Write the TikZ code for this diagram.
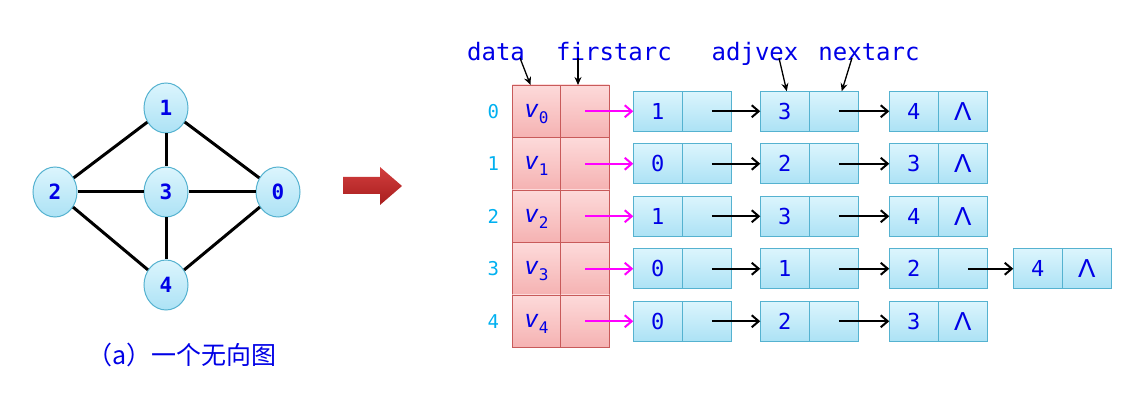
\documentclass[tikz,border=0pt]{standalone}
\usepackage{fontspec}
\setmonofont{DejaVu Sans Mono}
\newfontfamily\cjk{Noto Sans CJK SC}
\newfontfamily\lsans{Liberation Sans}
\usepackage{tikz}
\usetikzlibrary{positioning,shapes.geometric,arrows.meta}
\definecolor{txtblue}{RGB}{0,0,230}
\definecolor{idxcyan}{RGB}{0,176,240}
\definecolor{pinktop}{RGB}{253,218,218}
\definecolor{pinkbot}{RGB}{245,178,178}
\definecolor{pinkline}{RGB}{200,90,90}
\definecolor{cyantop}{RGB}{220,245,253}
\definecolor{cyanbot}{RGB}{172,226,245}
\definecolor{cyanline}{RGB}{85,178,208}
\definecolor{redtop}{RGB}{210,62,62}
\definecolor{redbot}{RGB}{168,30,30}
\definecolor{ptrpink}{RGB}{255,0,255}
\newcommand{\vsub}[1]{\smash{\raisebox{-6pt}{{\fontsize{24}{26}\selectfont\itshape v}\raisebox{-6pt}{\fontsize{16}{17}\selectfont#1}}}}
\newcommand{\nil}{{\lsans\fontsize{26}{26}\selectfont Λ}}

\begin{document}
\begin{tikzpicture}[x=1pt, y=-1pt,
  every node/.style={font=\ttfamily\fontsize{22}{24}\selectfont, text=txtblue, inner sep=1pt},
  vert/.style={ellipse, draw=cyanline, line width=1pt, top color=cyantop, bottom color=cyanbot,
               minimum width=44pt, minimum height=50pt, inner sep=0pt,
               font=\ttfamily\bfseries\fontsize{21}{23}\selectfont},
  gline/.style={line width=3pt, black},
  hcell/.style={rectangle, draw=pinkline, line width=0.8pt, top color=pinktop, bottom color=pinkbot,
                minimum width=48.5pt, minimum height=52.5pt, inner sep=0pt, outer sep=0pt},
  acell/.style={rectangle, draw=cyanline, line width=0.8pt, top color=cyantop, bottom color=cyanbot,
                minimum width=49pt, minimum height=40pt, inner sep=0pt, outer sep=0pt},
  idx/.style={text=idxcyan, font=\ttfamily\fontsize{19}{20}\selectfont},
  lbl/.style={font=\ttfamily\fontsize{24}{26}\selectfont, anchor=base},
  ptr/.style={-{Straight Barb[length=7pt,width=12pt]}, line width=2pt, black},
  hptr/.style={ptr, ptrpink},
  tag/.style={-{Stealth[length=8pt,width=7pt]}, line width=1.3pt, black}
]
  \useasboundingbox (0,0) rectangle (1136,411);

  % undirected graph
  \node[vert] (g1) at (166,108) {1};
  \node[vert] (g2) at (55,192) {2};
  \node[vert] (g3) at (166,192) {3};
  \node[vert] (g0) at (278,192) {0};
  \node[vert] (g4) at (166,285) {4};
  \draw[gline] (g1) -- (g2);
  \draw[gline] (g1) -- (g3);
  \draw[gline] (g1) -- (g0);
  \draw[gline] (g2) -- (g3);
  \draw[gline] (g3) -- (g0);
  \draw[gline] (g2) -- (g4);
  \draw[gline] (g3) -- (g4);
  \draw[gline] (g0) -- (g4);
  \node[font=\cjk\fontsize{25}{27}\selectfont] (cap) at (182,355) {（a）一个无向图};

  % big arrow
  \shade[top color=redtop, bottom color=redbot]
    (343,177) -- (380,177) -- (380,167) -- (402,186) -- (380,205) -- (380,194) -- (343,194) -- cycle;

  % vertex table
  \node[hcell] (d0) at (536.5,111.25) {\vsub{0}};
  \node[hcell, below=0pt of d0] (d1) {\vsub{1}};
  \node[hcell, below=0pt of d1] (d2) {\vsub{2}};
  \node[hcell, below=0pt of d2] (d3) {\vsub{3}};
  \node[hcell, below=0pt of d3] (d4) {\vsub{4}};
  \node[hcell, right=0pt of d0] (f0) {};
  \node[hcell, right=0pt of d1] (f1) {};
  \node[hcell, right=0pt of d2] (f2) {};
  \node[hcell, right=0pt of d3] (f3) {};
  \node[hcell, right=0pt of d4] (f4) {};
  \node[idx, left=12pt of d0] (i0) {0};
  \node[idx, left=12pt of d1] (i1) {1};
  \node[idx, left=12pt of d2] (i2) {2};
  \node[idx, left=12pt of d3] (i3) {3};
  \node[idx, left=12pt of d4] (i4) {4};

  % field names
  \node[lbl] (tdata) at (496,61) {data};
  \node[lbl] (tfirst) at (614,61) {firstarc};
  \node[lbl] (tadj) at (755,61) {adjvex};
  \node[lbl] (tnext) at (869,61) {nextarc};

  % row 0
  \node[acell, right=24pt of f0] (a00) {1};
  \node[acell, right=0pt of a00] (n00) {};
  \node[acell, right=29pt of n00] (a01) {3};
  \node[acell, right=0pt of a01] (n01) {};
  \node[acell, right=31pt of n01] (a02) {4};
  \node[acell, right=0pt of a02] (n02) {\nil};
  % row 1
  \node[acell, right=24pt of f1] (a10) {0};
  \node[acell, right=0pt of a10] (n10) {};
  \node[acell, right=29pt of n10] (a11) {2};
  \node[acell, right=0pt of a11] (n11) {};
  \node[acell, right=31pt of n11] (a12) {3};
  \node[acell, right=0pt of a12] (n12) {\nil};
  % row 2
  \node[acell, right=24pt of f2] (a20) {1};
  \node[acell, right=0pt of a20] (n20) {};
  \node[acell, right=29pt of n20] (a21) {3};
  \node[acell, right=0pt of a21] (n21) {};
  \node[acell, right=31pt of n21] (a22) {4};
  \node[acell, right=0pt of a22] (n22) {\nil};
  % row 3
  \node[acell, right=24pt of f3] (a30) {0};
  \node[acell, right=0pt of a30] (n30) {};
  \node[acell, right=29pt of n30] (a31) {1};
  \node[acell, right=0pt of a31] (n31) {};
  \node[acell, right=31pt of n31] (a32) {2};
  \node[acell, right=0pt of a32] (n32) {};
  \node[acell, right=26pt of n32] (a33) {4};
  \node[acell, right=0pt of a33] (n33) {\nil};
  % row 4
  \node[acell, right=24pt of f4] (a40) {0};
  \node[acell, right=0pt of a40] (n40) {};
  \node[acell, right=29pt of n40] (a41) {2};
  \node[acell, right=0pt of a41] (n41) {};
  \node[acell, right=31pt of n41] (a42) {3};
  \node[acell, right=0pt of a42] (n42) {\nil};

  % pointers
  \draw[hptr] (f0.center) -- (a00);
  \draw[hptr] (f1.center) -- (a10);
  \draw[hptr] (f2.center) -- (a20);
  \draw[hptr] (f3.center) -- (a30);
  \draw[hptr] (f4.center) -- (a40);
  \draw[ptr] ([xshift=5pt]n00.center) -- (a01);
  \draw[ptr] ([xshift=5pt]n01.center) -- (a02);
  \draw[ptr] ([xshift=5pt]n10.center) -- (a11);
  \draw[ptr] ([xshift=5pt]n11.center) -- (a12);
  \draw[ptr] ([xshift=5pt]n20.center) -- (a21);
  \draw[ptr] ([xshift=5pt]n21.center) -- (a22);
  \draw[ptr] ([xshift=5pt]n30.center) -- (a31);
  \draw[ptr] ([xshift=5pt]n31.center) -- (a32);
  \draw[ptr] ([xshift=5pt]n32.center) -- (a33);
  \draw[ptr] ([xshift=5pt]n40.center) -- (a41);
  \draw[ptr] ([xshift=5pt]n41.center) -- (a42);

  % field name arrows
  \draw[tag] ([xshift=24pt,yshift=3pt]tdata.base) -- ([xshift=-6pt]d0.north);
  \draw[tag] ([xshift=-36pt,yshift=3pt]tfirst.base) -- ([xshift=-7pt]f0.north);
  \draw[tag] ([xshift=24pt,yshift=3pt]tadj.base) -- ([xshift=2pt]a01.north);
  \draw[tag] ([xshift=-17pt,yshift=3pt]tnext.base) -- ([xshift=8pt]n01.north);
\end{tikzpicture}
\end{document}
